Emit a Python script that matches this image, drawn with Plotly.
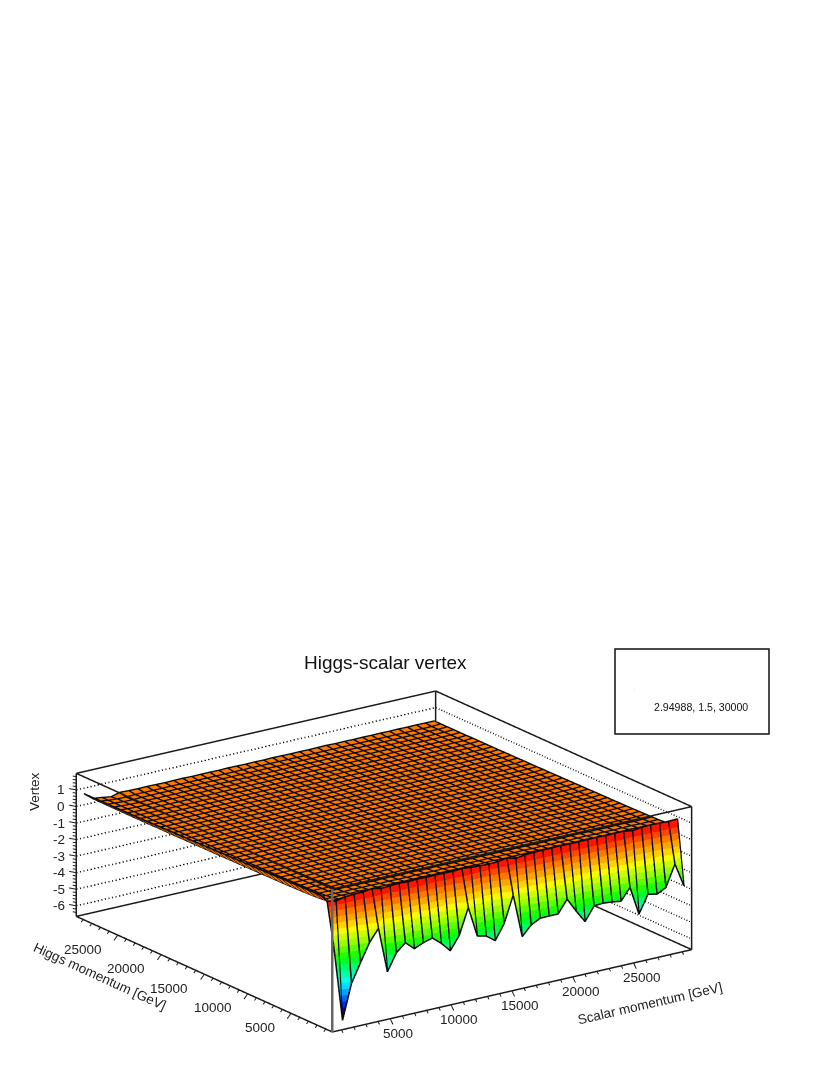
import numpy as np
import plotly.graph_objects as go

scalar_momentum = [609,1348,2086,2825,3563,4302,5040,5779,6517,7256,7994,8733,9471,10210,10948,11687,12425,13164,13902,14641,15379,16118,16856,17595,18333,19072,19810,20549,21287,22026,22764,23503,24241,24980,25718,26457,27195,27934,28672,29411]
higgs_momentum = list(scalar_momentum)
row_front = [-1.52,-6.23,-4.13,-3.00,-1.91,-1.17,-3.92,-2.89,-2.41,-2.90,-2.66,-2.50,-2.95,-3.52,-2.71,-1.16,-3.00,-3.13,-3.53,-2.62,-1.02,-3.66,-3.08,-2.80,-2.79,-2.79,-2.02,-2.86,-3.62,-2.80,-2.76,-2.81,-2.89,-2.18,-3.92,-2.84,-2.96,-2.68,-1.39,-2.83]
row_ridge = [0.90,0.81,0.93,0.97,0.98,1.06,0.94,0.97,1.01,0.97,1.01,0.99,1.00,1.00,0.98,1.03,0.97,0.94,0.92,0.94,1.04,0.89,0.97,1.01,1.02,1.02,1.04,1.02,1.03,1.03,1.05,1.02,1.04,1.04,0.95,1.03,1.05,1.03,1.02,1.04]
flat_rows = [
[1.10,.60,.63,.64,.62,.65,.61,.63,.64,.62,.63,.64,.62,.63,.61,.64,.62,.61,.60,.62,.64,.60,.62,.63,.63,.64,.63,.64,.62,.63,.64,.63,.62,.64,.61,.63,.64,.63,.60,.58],
[1.09,.55,.54,.55,.53,.55,.52,.54,.53,.54,.52,.53,.54,.52,.53,.54,.52,.53,.51,.53,.54,.51,.53,.52,.54,.53,.52,.54,.53,.52,.54,.53,.52,.53,.52,.54,.52,.53,.50,.50],
[1.08,.51,.48,.49,.47,.49,.47,.48,.46,.48,.47,.46,.48,.47,.46,.48,.47,.46,.47,.46,.48,.46,.47,.46,.48,.46,.47,.46,.48,.46,.47,.48,.46,.47,.46,.47,.48,.46,.47,.47],
[1.07,.49,.46,.45,.44,.46,.44,.45,.43,.45,.44,.43,.45,.44,.43,.45,.44,.43,.44,.43,.45,.43,.44,.43,.45,.44,.43,.44,.45,.43,.44,.45,.43,.44,.43,.45,.44,.43,.44,.46],
[1.06,.47,.44,.43,.42,.44,.42,.43,.42,.43,.42,.41,.43,.42,.41,.43,.42,.41,.43,.42,.43,.41,.42,.43,.41,.43,.42,.41,.43,.42,.41,.43,.42,.41,.43,.42,.43,.41,.42,.45],
[1.05,.46,.42,.42,.41,.42,.41,.42,.41,.42,.40,.41,.42,.41,.40,.42,.41,.40,.41,.42,.40,.41,.40,.42,.41,.40,.42,.41,.40,.42,.41,.40,.41,.42,.40,.41,.42,.40,.41,.44],
[1.04,.45,.41,.41,.40,.41,.40,.41,.40,.40,.41,.39,.40,.41,.40,.39,.41,.40,.39,.41,.40,.39,.41,.40,.39,.41,.40,.39,.41,.40,.39,.40,.41,.39,.40,.41,.39,.40,.41,.43],
[1.03,.44,.40,.40,.39,.40,.39,.40,.39,.40,.39,.40,.38,.40,.39,.38,.40,.39,.38,.40,.39,.38,.40,.39,.38,.39,.40,.38,.39,.40,.38,.39,.40,.38,.39,.40,.38,.39,.40,.42],
[1.02,.43,.39,.39,.38,.39,.38,.39,.38,.39,.38,.39,.38,.39,.38,.37,.39,.38,.37,.39,.38,.37,.38,.39,.37,.38,.39,.37,.38,.39,.37,.38,.39,.37,.38,.39,.37,.38,.39,.42],
[1.01,.43,.38,.38,.38,.38,.37,.38,.37,.38,.37,.38,.37,.38,.37,.38,.37,.38,.36,.38,.37,.36,.38,.37,.36,.38,.37,.36,.38,.37,.36,.37,.38,.36,.37,.38,.36,.37,.38,.41],
[1.00,.42,.38,.37,.37,.38,.37,.37,.36,.37,.37,.36,.38,.37,.36,.37,.36,.37,.36,.37,.36,.37,.36,.37,.36,.37,.36,.37,.36,.37,.36,.37,.36,.37,.36,.37,.36,.37,.37,.41],
[.99,.42,.37,.37,.36,.37,.36,.37,.36,.36,.37,.36,.37,.36,.36,.37,.36,.36,.37,.36,.36,.37,.36,.35,.37,.36,.35,.37,.36,.35,.36,.37,.35,.36,.37,.35,.36,.37,.36,.40],
[.98,.41,.37,.36,.36,.37,.36,.36,.35,.36,.36,.35,.36,.36,.35,.36,.36,.35,.36,.36,.35,.36,.35,.36,.36,.35,.36,.35,.36,.35,.36,.35,.36,.35,.36,.35,.36,.35,.36,.40],
[.97,.41,.36,.36,.35,.36,.35,.36,.35,.36,.35,.36,.35,.36,.35,.35,.36,.35,.35,.36,.35,.35,.36,.35,.34,.36,.35,.34,.35,.36,.34,.35,.36,.34,.35,.36,.34,.35,.36,.39],
[.96,.40,.36,.35,.35,.36,.35,.35,.34,.35,.35,.34,.36,.35,.34,.35,.35,.34,.35,.35,.34,.35,.34,.35,.34,.35,.34,.35,.34,.35,.34,.35,.34,.35,.34,.35,.34,.35,.35,.39],
[.95,.40,.36,.35,.34,.35,.34,.35,.34,.35,.34,.35,.34,.35,.34,.34,.35,.34,.34,.35,.34,.34,.35,.34,.34,.35,.34,.33,.35,.34,.33,.35,.34,.33,.34,.35,.33,.34,.35,.38],
[.94,.39,.35,.35,.34,.35,.34,.34,.33,.35,.34,.33,.35,.34,.33,.34,.34,.33,.35,.34,.33,.34,.33,.34,.34,.33,.34,.34,.33,.34,.33,.34,.33,.34,.33,.34,.33,.34,.34,.38],
[.93,.39,.35,.34,.34,.35,.33,.34,.33,.34,.34,.33,.34,.33,.34,.33,.34,.33,.34,.33,.34,.33,.34,.33,.33,.34,.33,.33,.34,.33,.33,.34,.33,.33,.34,.33,.33,.34,.33,.37],
[.92,.38,.35,.34,.33,.34,.33,.34,.33,.34,.33,.34,.33,.34,.33,.33,.34,.33,.33,.34,.33,.33,.34,.33,.32,.34,.33,.32,.33,.34,.32,.33,.34,.32,.33,.34,.32,.33,.34,.37],
[.91,.38,.34,.34,.33,.34,.33,.33,.32,.34,.33,.32,.34,.33,.32,.33,.33,.32,.34,.33,.32,.33,.32,.33,.33,.32,.33,.33,.32,.33,.32,.33,.32,.33,.32,.33,.32,.33,.33,.36],
[.90,.38,.34,.33,.33,.34,.32,.33,.32,.33,.33,.32,.33,.32,.33,.32,.33,.32,.33,.32,.33,.32,.33,.32,.32,.33,.32,.32,.33,.32,.32,.33,.32,.32,.33,.32,.32,.33,.32,.36],
[.89,.37,.34,.33,.32,.33,.32,.33,.32,.33,.32,.33,.32,.33,.32,.32,.33,.32,.32,.33,.32,.32,.33,.32,.32,.33,.32,.31,.33,.32,.31,.33,.32,.31,.32,.33,.31,.32,.33,.35],
[.88,.37,.33,.33,.32,.33,.32,.32,.31,.33,.32,.31,.33,.32,.31,.32,.32,.31,.33,.32,.31,.32,.31,.32,.32,.31,.32,.32,.31,.32,.31,.32,.31,.32,.31,.32,.31,.32,.32,.35],
[.87,.37,.33,.32,.32,.33,.31,.32,.31,.32,.32,.31,.32,.31,.32,.31,.32,.31,.32,.31,.32,.31,.32,.31,.31,.32,.31,.31,.32,.31,.31,.32,.31,.31,.32,.31,.31,.32,.31,.35],
[.86,.36,.33,.32,.31,.32,.31,.32,.31,.32,.31,.32,.31,.32,.31,.31,.32,.31,.31,.32,.31,.31,.32,.31,.31,.32,.31,.31,.32,.31,.31,.32,.31,.31,.31,.32,.31,.31,.32,.34],
[.85,.36,.33,.32,.31,.32,.31,.31,.31,.32,.31,.31,.32,.31,.31,.31,.31,.31,.32,.31,.31,.31,.31,.31,.31,.31,.31,.31,.31,.31,.31,.31,.31,.31,.31,.31,.31,.31,.31,.34],
[.84,.36,.33,.31,.31,.32,.31,.31,.30,.31,.31,.31,.31,.31,.30,.31,.31,.30,.31,.31,.30,.31,.30,.31,.31,.30,.31,.31,.30,.31,.30,.31,.30,.31,.30,.31,.30,.31,.31,.34],
[.83,.36,.32,.31,.30,.31,.30,.31,.30,.31,.30,.31,.30,.31,.30,.30,.31,.30,.30,.31,.30,.30,.31,.30,.30,.31,.30,.30,.31,.30,.30,.31,.30,.30,.31,.30,.30,.31,.30,.33],
[.82,.35,.32,.31,.30,.31,.30,.30,.30,.31,.30,.30,.31,.30,.30,.30,.30,.30,.31,.30,.30,.30,.30,.30,.30,.30,.30,.30,.30,.30,.30,.30,.30,.30,.30,.30,.30,.30,.30,.33],
[.82,.35,.32,.31,.30,.31,.30,.30,.30,.30,.30,.30,.30,.30,.30,.30,.30,.30,.30,.30,.30,.30,.30,.30,.30,.30,.30,.30,.30,.30,.30,.30,.30,.30,.30,.30,.30,.30,.30,.33],
[.81,.35,.32,.30,.30,.30,.30,.30,.30,.30,.30,.30,.30,.30,.29,.30,.30,.29,.30,.30,.29,.30,.29,.30,.30,.29,.30,.30,.29,.30,.29,.30,.29,.30,.29,.30,.29,.30,.30,.33],
[.81,.35,.31,.30,.29,.30,.29,.30,.29,.30,.29,.30,.29,.30,.29,.29,.30,.29,.29,.30,.29,.29,.30,.29,.29,.30,.29,.29,.30,.29,.29,.30,.29,.29,.30,.29,.29,.30,.29,.33],
[.80,.35,.31,.29,.29,.30,.29,.29,.29,.30,.29,.29,.30,.29,.29,.29,.29,.29,.30,.29,.29,.29,.29,.29,.29,.29,.29,.29,.29,.29,.29,.29,.29,.29,.29,.29,.29,.29,.29,.32],
[.80,.35,.31,.29,.28,.29,.29,.29,.29,.29,.29,.29,.29,.29,.29,.29,.29,.29,.29,.29,.29,.29,.29,.29,.29,.29,.29,.29,.29,.29,.29,.29,.29,.29,.29,.29,.29,.29,.29,.32],
[.79,.35,.31,.28,.27,.29,.28,.29,.28,.29,.28,.29,.28,.29,.28,.29,.28,.29,.28,.29,.28,.29,.28,.29,.28,.29,.28,.29,.28,.29,.28,.29,.28,.29,.28,.29,.28,.29,.29,.32],
[.79,.35,.31,.27,.26,.28,.28,.29,.28,.29,.28,.28,.29,.28,.28,.28,.29,.28,.28,.29,.28,.28,.29,.28,.28,.29,.28,.28,.29,.28,.28,.29,.28,.28,.29,.28,.28,.29,.28,.32],
[.78,.36,.30,.26,.25,.28,.28,.28,.28,.29,.28,.28,.28,.28,.28,.28,.28,.28,.29,.28,.28,.28,.28,.28,.28,.28,.28,.28,.28,.28,.28,.28,.28,.28,.28,.28,.28,.28,.28,.32],
[.78,.36,.30,.21,.36,.34,.33,.34,.33,.32,.33,.34,.32,.33,.33,.32,.34,.33,.32,.33,.32,.34,.33,.32,.33,.32,.33,.34,.32,.33,.32,.33,.32,.33,.32,.33,.32,.33,.32,.32],
]
vertex = np.array([row_front, row_ridge] + flat_rows)

x_range = [240, 29780]
y_range = [240, 29780]
z_range = [-6.64, 2.0]
major_ticks = [5000, 10000, 15000, 20000, 25000]
minor_ticks = [1000,2000,3000,4000,6000,7000,8000,9000,11000,12000,13000,14000,16000,17000,18000,19000,21000,22000,23000,24000,26000,27000,28000,29000]
z_major = [-6,-5,-4,-3,-2,-1,0,1]
z_minor = [-6.4,-6.2,-5.8,-5.6,-5.4,-5.2,-4.8,-4.6,-4.4,-4.2,-3.8,-3.6,-3.4,-3.2,-2.8,-2.6,-2.4,-2.2,-1.8,-1.6,-1.4,-1.2,-0.8,-0.6,-0.4,-0.2,0.2,0.4,0.6,0.8,1.2,1.4,1.6,1.8]
palette = ['#00009b','#0000dc','#0028ff','#0064ff','#00a0ff','#00dcff','#00ffe6','#00ffaa','#00ff6e','#00ff28','#1eff00','#5aff00','#96ff00','#c8ff00','#fafa00','#ffd200','#ffa500','#ff7800','#ff4600','#ff1400']

xl, xh = x_range; yl, yh = y_range; zl, zh = z_range
pad = 0.1
xp = (xh-xl)*pad; yp = (yh-yl)*pad; zp = (zh-zl)*pad
cmin, cmax = -6.2, 1.0
ORANGE = 0.0
colour = vertex.copy()
colour[2:, 1:] = ORANGE
colour[4:, 0] = ORANGE
colour[2:4, 1:] = np.where(np.arange(40)[1:] >= 38, vertex[2:4, 1:], ORANGE)
cs = []
n = len(palette)
for k, c in enumerate(palette):
    cs += [[k/n, c], [(k+1)/n, c]]

fig = go.Figure()
fig.add_trace(go.Surface(x=scalar_momentum, y=higgs_momentum, z=vertex, surfacecolor=colour, cmin=cmin, cmax=cmax,
    colorscale=cs, showscale=False, hoverinfo='skip',
    lighting=dict(ambient=1, diffuse=0, specular=0, roughness=1, fresnel=0),
    contours=dict(x=dict(show=False, highlight=False), y=dict(show=False, highlight=False), z=dict(show=False, highlight=False))))

# mesh drawn from the same table, nudged slightly towards the viewer so it sits on top of the surface
mx, my, mz = [], [], []
for j, yy in enumerate(higgs_momentum):
    mx += [v-25 for v in scalar_momentum] + [None]
    my += [yy-25]*40 + [None]
    mz += [float(v)+0.03 for v in vertex[j]] + [None]
for i, xx in enumerate(scalar_momentum):
    mx += [xx-25]*40 + [None]
    my += [v-25 for v in higgs_momentum] + [None]
    mz += [float(v)+0.03 for v in vertex[:, i]] + [None]
fig.add_trace(go.Scatter3d(x=mx, y=my, z=mz, mode='lines', line=dict(color='#0a0a0a', width=3), hoverinfo='skip', showlegend=False))

def seg(pts_list, color='#1a1a1a', width=3, dash='solid'):
    xs, ys, zs = [], [], []
    for a, b in pts_list:
        xs += [a[0], b[0], None]; ys += [a[1], b[1], None]; zs += [a[2], b[2], None]
    fig.add_trace(go.Scatter3d(x=xs, y=ys, z=zs, mode='lines', line=dict(color=color, width=width, dash=dash), hoverinfo='skip', showlegend=False))

# frame
seg([((xl,yh,zl),(xh,yh,zl)), ((xh,yh,zl),(xh,yl,zl)), ((xl,yl,zl),(xh,yl,zl)), ((xl,yl,zl),(xl,yh,zl)),
     ((xl,yh,zh),(xh,yh,zh)), ((xh,yh,zh),(xh,yl,zh)), ((xl,yl,zh),(xh,yl,zh)), ((xl,yl,zh),(xl,yh,zh)),
     ((xl,yh,zl),(xl,yh,zh)), ((xh,yh,zl),(xh,yh,zh)), ((xh,yl,zl),(xh,yl,zh))])
seg([((xl,yl,zl),(xl,yl,zh))], color='#666666', width=5)
# dotted grid
for z in z_major:
    seg([((xl,yh,z),(xh,yh,z)), ((xh,yh,z),(xh,yl,z))], width=3, dash='dot')
# ticks
tx = []
for t in major_ticks:
    tx.append(((t,yl,zl),(t,yl-310,zl-0.27)))
    tx.append(((xl,t,zl),(xl-310,t,zl-0.27)))
for t in minor_ticks:
    tx.append(((t,yl,zl),(t,yl-155,zl-0.14)))
    tx.append(((xl,t,zl),(xl-155,t,zl-0.14)))
for z in z_major:
    tx.append(((xl,yh,z),(xl-230,yh+500,z)))
for z in z_minor:
    tx.append(((xl,yh,z),(xl-115,yh+250,z)))
seg(tx, width=2)

FONT = 'Liberation Sans, Arial, sans-serif'
ann = []
for t in major_ticks:
    ann.append(dict(x=t, y=yl, z=zl, text=str(t), showarrow=False, xshift=8, yshift=-15, font=dict(family=FONT, size=13.5, color='#222')))
    ann.append(dict(x=xl, y=t, z=zl, text=str(t), showarrow=False, xanchor='right', xshift=-14, yshift=-14, font=dict(family=FONT, size=13.5, color='#222')))
for z in z_major:
    ann.append(dict(x=xl, y=yh, z=z, text=str(z), showarrow=False, xanchor='right', xshift=-9, font=dict(family=FONT, size=13.5, color='#222')))

def note(px, py, text, size, angle=0, color='#222'):
    return dict(xref='paper', yref='paper', x=px/830, y=1-py/1075, xanchor='center', yanchor='middle', text=text, textangle=angle,
                showarrow=False, font=dict(family=FONT, size=size, color=color))

fig.update_layout(
    width=830, height=1075, margin=dict(l=0, r=0, t=0, b=0), paper_bgcolor='white', showlegend=False,
    scene=dict(
        domain=dict(x=[0, 768/830], y=[0, 427/1075]),
        xaxis=dict(range=[xl-xp, xh+xp], visible=False),
        yaxis=dict(range=[yl-yp, yh+yp], visible=False),
        zaxis=dict(range=[zl-zp, zh+zp], visible=False),
        aspectmode='manual', aspectratio=dict(x=2.48, y=2.48, z=0.849),
        camera=dict(projection=dict(type='orthographic'), up=dict(x=0, y=0, z=1), center=dict(x=0, y=0, z=0),
                    eye=dict(x=-0.5494*2, y=-0.7712*2, z=0.3216*2)),
        annotations=ann),
    shapes=[dict(type='rect', xref='paper', yref='paper', x0=615/830, x1=769/830, y0=1-734/1075, y1=1-649/1075, line=dict(color='#111', width=1.5))],
    annotations=[
        note(385.5, 662, 'Higgs-scalar vertex', 19, color='#111'),
        note(701, 707, '2.94988, 1.5, 30000', 10.6, color='#111'),
        note(634.5, 689, '.', 3, color='#333'),
        note(34, 792, 'Vertex', 13.5, -90),
        note(100, 976, 'Higgs momentum [GeV]', 13.5, 24.5),
        note(650, 1003, 'Scalar momentum [GeV]', 13.5, -13),
    ])
fig.write_html("out.html", post_script="document.body.style.margin='0';", config=dict(displayModeBar=False))
